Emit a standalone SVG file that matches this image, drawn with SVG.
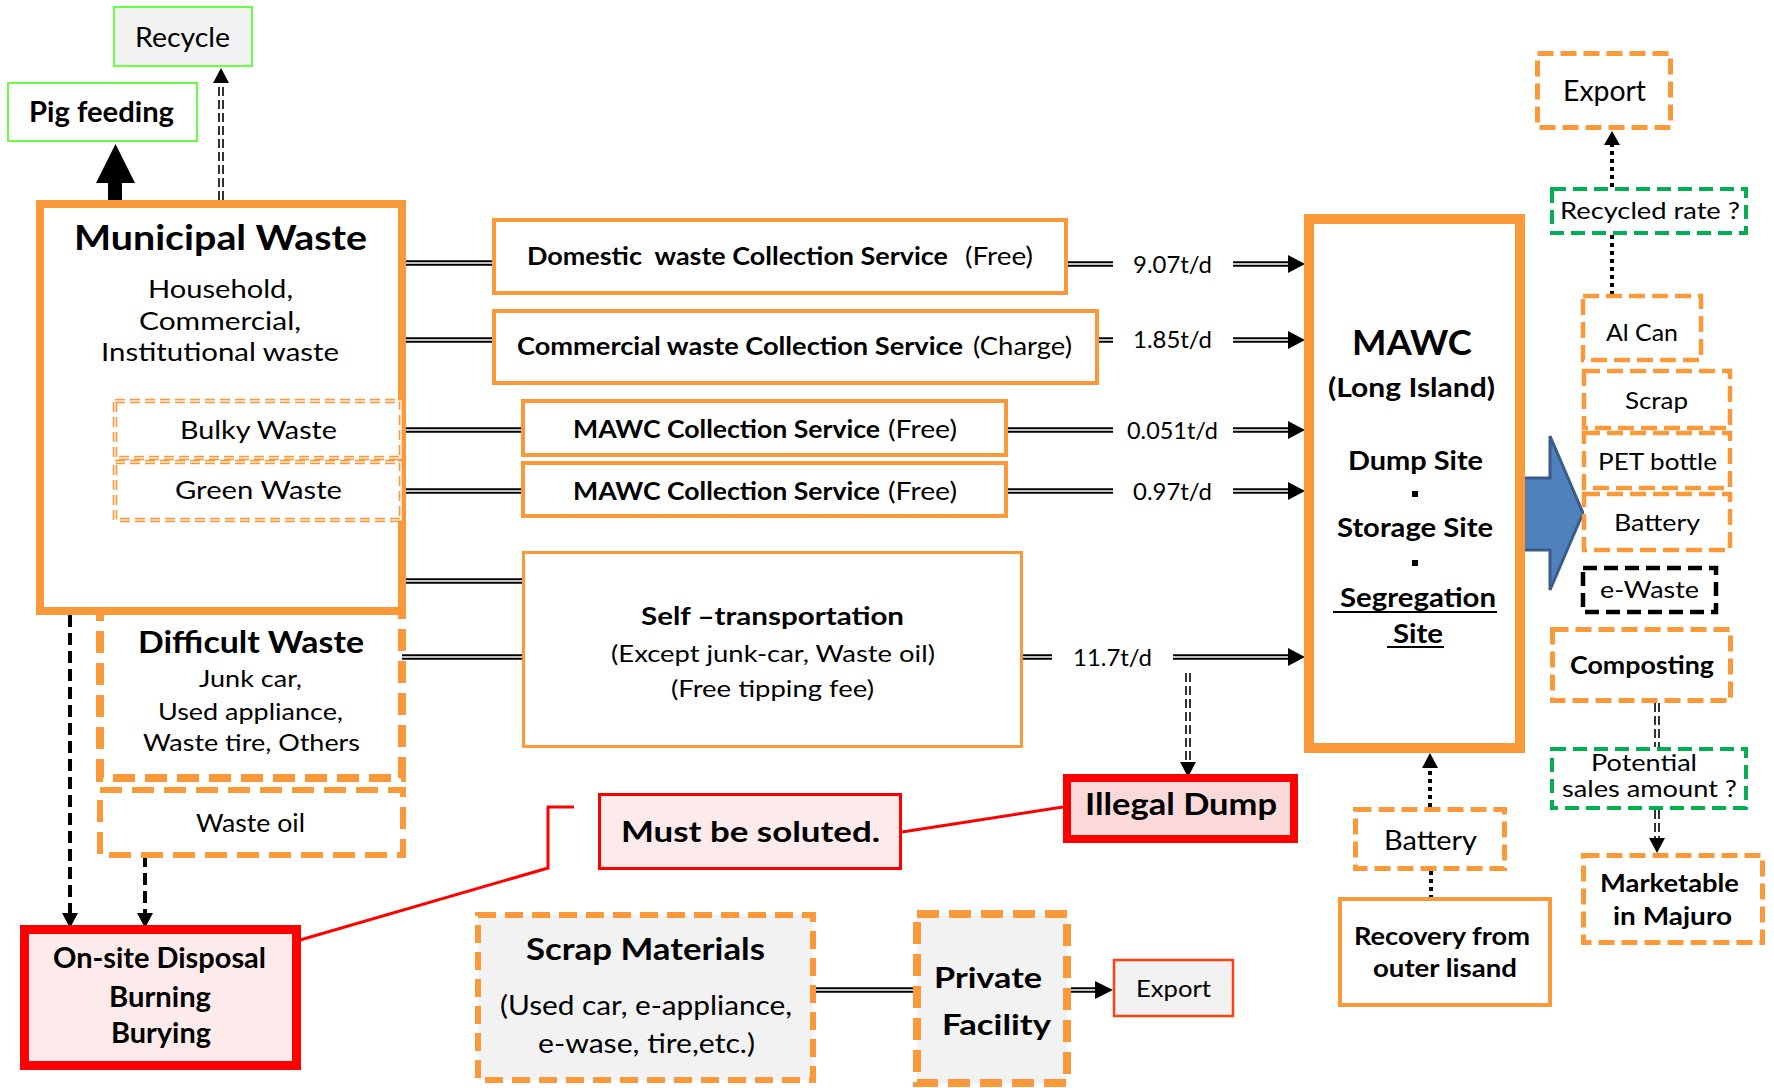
<svg xmlns="http://www.w3.org/2000/svg" width="1774" height="1088" viewBox="0 0 1774 1088">
<style>
text{font-family:Lato,"Open Sans","Liberation Sans",sans-serif;fill:#000;}
.b{font-weight:bold;}
.m{text-anchor:middle;}
.or{fill:#fff;stroke:#f9993a;}
.od{fill:#fff;stroke:#f9993a;stroke-dasharray:16 7;}
.gd{fill:#fff;stroke:#00b050;stroke-width:4;stroke-dasharray:14 7;}
.dl{fill:none;stroke:#000;stroke-width:5.5;}
.dlw{fill:none;stroke:#fff;stroke-width:1.6;}
.dot{fill:none;stroke:#000;stroke-width:4;stroke-dasharray:4 4;}
.dd{fill:none;stroke:#000;stroke-width:1.6;stroke-dasharray:9 4;}
.red{fill:none;stroke:#ff0000;stroke-width:3;}
</style>
<rect width="1774" height="1088" fill="#fff"/>

<g id="connectors">
  <!-- double-line connectors -->
  <path class="dl" d="M406 263H492M1068 264H1113M1233 264H1291M406 340H492M1099 340H1113M1233 340H1291M403 430H521M1008 430H1113M1233 430H1291M403 491H521M1008 491H1113M1233 491H1291M406 581H522M402 657H522M1023 657H1052M1173 657H1291M816 990H913M1071 990H1098"/>
  <path class="dlw" d="M406 263H492M1068 264H1113M1233 264H1289M406 340H492M1099 340H1113M1233 340H1289M403 430H521M1008 430H1113M1233 430H1289M403 491H521M1008 491H1113M1233 491H1289M406 581H522M402 657H522M1023 657H1052M1173 657H1289M816 990H913M1071 990H1096"/>
  <g fill="#000">
    <polygon points="1288,255 1305,264 1288,273"/>
    <polygon points="1288,331 1305,340 1288,349"/>
    <polygon points="1288,421 1305,430 1288,439"/>
    <polygon points="1288,482 1305,491 1288,500"/>
    <polygon points="1288,648 1305,657 1288,666"/>
    <polygon points="1095,981 1113,990 1095,999"/>
  </g>
  <!-- thick arrow to Pig feeding -->
  <polygon points="108,200 108,183 96,183 115.5,144 135,183 122,183 122,200" fill="#000"/>
  <!-- dashed double: to Recycle -->
  <path class="dd" d="M219 200V82M223 200V82"/>
  <polygon points="213,83 229,83 221,68" fill="#000"/>
  <!-- dashed double: to Illegal Dump -->
  <path class="dd" d="M1186 673V763M1190 673V763"/>
  <polygon points="1180,762 1196,762 1188,777" fill="#000"/>
  <!-- dashed double: Composting -> Potential -> Marketable -->
  <path class="dd" d="M1655 703V747M1659 703V747M1655 810V839M1659 810V839"/>
  <polygon points="1649,838 1665,838 1657,853" fill="#000"/>
  <!-- dotted -->
  <path class="dot" d="M1612 187V145M1612 235V294M1430 807V768M1431 871V897"/>
  <polygon points="1604,145 1620,145 1612,131" fill="#000"/>
  <polygon points="1422,768 1438,768 1430,753" fill="#000"/>
  <!-- black dashed to On-site -->
  <path d="M70 615V914M145 855V914" fill="none" stroke="#000" stroke-width="4" stroke-dasharray="12 6"/>
  <polygon points="62,913 78,913 70,928" fill="#000"/>
  <polygon points="137,913 153,913 145,928" fill="#000"/>
  <!-- red lines -->
  <polyline class="red" points="300,940 548,868 548,807 574,807"/>
  <line class="red" x1="902" y1="832" x2="1063" y2="807"/>
  <!-- blue arrow -->
  <polygon points="1518,478 1550,478 1550,436 1583,513 1550,590 1550,550 1518,550" fill="#4f81bd" stroke="#385d8a" stroke-width="3"/>
</g>

<g id="recycle">
  <rect x="114" y="7" width="138" height="59" fill="#f2f2f2" stroke="#66ff44" stroke-width="2"/>
  <text class="m" x="182.5" y="47" font-size="27" textLength="95" lengthAdjust="spacingAndGlyphs">Recycle</text>
</g>
<g id="pig-feeding">
  <rect x="8" y="83" width="189" height="58" fill="#fff" stroke="#66ff44" stroke-width="2"/>
  <text class="m b" x="101.5" y="122" font-size="28" textLength="145" lengthAdjust="spacingAndGlyphs">Pig feeding</text>
</g>

<g id="difficult-waste">
  <rect x="100" y="611" width="302" height="167" class="od" stroke-width="8" style="stroke-dasharray:22 10"/>
  <text class="m b" x="251" y="653" font-size="30" textLength="226" lengthAdjust="spacingAndGlyphs">Difficult Waste</text>
  <text class="m" x="250.5" y="687" font-size="24" textLength="103" lengthAdjust="spacingAndGlyphs">Junk car,</text>
  <text class="m" x="250.5" y="720" font-size="24" textLength="185" lengthAdjust="spacingAndGlyphs">Used appliance,</text>
  <text class="m" x="251.5" y="751" font-size="24" textLength="217" lengthAdjust="spacingAndGlyphs">Waste tire, Others</text>
</g>

<g id="municipal-waste">
  <rect x="40" y="204" width="362" height="407" class="or" stroke-width="8"/>
  <text class="m b" x="220.5" y="250" font-size="35" textLength="293" lengthAdjust="spacingAndGlyphs">Municipal Waste</text>
  <text class="m" x="220.5" y="298" font-size="25" textLength="145" lengthAdjust="spacingAndGlyphs">Household,</text>
  <text class="m" x="220" y="330" font-size="25" textLength="162" lengthAdjust="spacingAndGlyphs">Commercial,</text>
  <text class="m" x="220" y="361" font-size="25" textLength="238" lengthAdjust="spacingAndGlyphs">Institutional waste</text>
</g>

<g id="bulky-waste">
  <rect x="115" y="401" width="286" height="57" fill="#fff" stroke="#f9993a" stroke-width="4.5" stroke-dasharray="10 5"/>
  <rect x="115" y="401" width="286" height="57" fill="none" stroke="#fff" stroke-width="1.2"/>
  <text class="m" x="258.5" y="439" font-size="25" textLength="157" lengthAdjust="spacingAndGlyphs">Bulky Waste</text>
</g>
<g id="green-waste">
  <rect x="115" y="462" width="286" height="58" fill="#fff" stroke="#f9993a" stroke-width="4.5" stroke-dasharray="10 5"/>
  <rect x="115" y="462" width="286" height="58" fill="none" stroke="#fff" stroke-width="1.2"/>
  <text class="m" x="258.5" y="499" font-size="25" textLength="167" lengthAdjust="spacingAndGlyphs">Green Waste</text>
</g>

<g id="waste-oil">
  <rect x="100" y="790" width="303" height="65" class="od" stroke-width="6" style="stroke-dasharray:22 10"/>
  <text class="m" x="250.5" y="832" font-size="25" textLength="109" lengthAdjust="spacingAndGlyphs">Waste oil</text>
</g>

<g id="on-site-disposal">
  <rect x="24.5" y="929.5" width="272" height="136" fill="#fdeaea" stroke="#ff0000" stroke-width="9"/>
  <text class="m b" x="159.5" y="968" font-size="28" textLength="213" lengthAdjust="spacingAndGlyphs">On-site Disposal</text>
  <text class="m b" x="160" y="1007" font-size="28" textLength="102" lengthAdjust="spacingAndGlyphs">Burning</text>
  <text class="m b" x="161" y="1043" font-size="28" textLength="100" lengthAdjust="spacingAndGlyphs">Burying</text>
</g>

<g id="domestic-service">
  <rect x="494" y="220" width="572" height="73" class="or" stroke-width="4"/>
  <text class="b" x="527" y="265" font-size="25" textLength="421" lengthAdjust="spacingAndGlyphs">Domestic&#160; waste Collection Service</text>
  <text x="965" y="265" font-size="25" textLength="68" lengthAdjust="spacingAndGlyphs">(Free)</text>
</g>
<g id="commercial-service">
  <rect x="494" y="311" width="603" height="72" class="or" stroke-width="4"/>
  <text class="b" x="517" y="355" font-size="25" textLength="446" lengthAdjust="spacingAndGlyphs">Commercial waste Collection Service</text>
  <text x="973" y="355" font-size="25" textLength="99" lengthAdjust="spacingAndGlyphs">(Charge)</text>
</g>
<g id="mawc-service-1">
  <rect x="523" y="401" width="483" height="54" class="or" stroke-width="4"/>
  <text class="b" x="573" y="438" font-size="25" textLength="307" lengthAdjust="spacingAndGlyphs">MAWC Collection Service</text>
  <text x="888" y="438" font-size="25" textLength="69" lengthAdjust="spacingAndGlyphs">(Free)</text>
</g>
<g id="mawc-service-2">
  <rect x="523" y="463" width="483" height="53" class="or" stroke-width="4"/>
  <text class="b" x="573" y="500" font-size="25" textLength="307" lengthAdjust="spacingAndGlyphs">MAWC Collection Service</text>
  <text x="888" y="500" font-size="25" textLength="69" lengthAdjust="spacingAndGlyphs">(Free)</text>
</g>
<g id="self-transportation">
  <rect x="523.5" y="552.5" width="498" height="194" class="or" stroke-width="3"/>
  <text class="m b" x="772.5" y="625" font-size="25" textLength="263" lengthAdjust="spacingAndGlyphs">Self –transportation</text>
  <text class="m" x="773" y="662" font-size="24" textLength="324" lengthAdjust="spacingAndGlyphs">(Except junk-car, Waste oil)</text>
  <text class="m" x="772.5" y="697" font-size="24" textLength="203" lengthAdjust="spacingAndGlyphs">(Free tipping fee)</text>
</g>

<g id="rates" font-size="24">
  <text x="1133" y="273" textLength="79" lengthAdjust="spacingAndGlyphs">9.07t/d</text>
  <text x="1133" y="348" textLength="79" lengthAdjust="spacingAndGlyphs">1.85t/d</text>
  <text x="1127" y="439" textLength="91" lengthAdjust="spacingAndGlyphs">0.051t/d</text>
  <text x="1133" y="500" textLength="79" lengthAdjust="spacingAndGlyphs">0.97t/d</text>
  <text x="1073" y="666" textLength="79" lengthAdjust="spacingAndGlyphs">11.7t/d</text>
</g>

<g id="mawc">
  <rect x="1309" y="219" width="211" height="529" class="or" stroke-width="10"/>
  <text class="m b" x="1412" y="355" font-size="35" textLength="120" lengthAdjust="spacingAndGlyphs">MAWC</text>
  <text class="m b" x="1411.5" y="397" font-size="26" textLength="167" lengthAdjust="spacingAndGlyphs">(Long Island)</text>
  <text class="m b" x="1415.5" y="470" font-size="27" textLength="135" lengthAdjust="spacingAndGlyphs">Dump Site</text>
  <rect x="1412" y="491" width="6" height="6" fill="#000"/>
  <text class="m b" x="1415" y="537" font-size="27" textLength="156" lengthAdjust="spacingAndGlyphs">Storage Site</text>
  <rect x="1412" y="560" width="6" height="6" fill="#000"/>
  <text class="m b" x="1418" y="607" font-size="27" textLength="156" lengthAdjust="spacingAndGlyphs">Segregation</text>
  <line x1="1333" y1="612" x2="1497" y2="612" stroke="#000" stroke-width="2"/>
  <text class="m b" x="1418" y="643" font-size="27" textLength="50" lengthAdjust="spacingAndGlyphs">Site</text>
  <line x1="1387" y1="647" x2="1444" y2="647" stroke="#000" stroke-width="2"/>
</g>

<g id="illegal-dump">
  <rect x="1067" y="778" width="227" height="61" fill="#fcd9d9" stroke="#ff0000" stroke-width="8"/>
  <text class="m b" x="1181" y="815" font-size="30" textLength="192" lengthAdjust="spacingAndGlyphs">Illegal Dump</text>
</g>
<g id="must-be-soluted">
  <rect x="599.5" y="794.5" width="301" height="74" fill="#fdeaea" stroke="#ff0000" stroke-width="3"/>
  <text class="m b" x="750.5" y="842" font-size="29" textLength="259" lengthAdjust="spacingAndGlyphs">Must be soluted.</text>
</g>

<g id="scrap-materials">
  <rect x="478" y="915" width="335" height="165" fill="#f2f2f2" stroke="#f9993a" stroke-width="6" stroke-dasharray="18 9"/>
  <text class="m b" x="645.5" y="960" font-size="30" textLength="239" lengthAdjust="spacingAndGlyphs">Scrap Materials</text>
  <text class="m" x="646" y="1015" font-size="27" textLength="292" lengthAdjust="spacingAndGlyphs">(Used car, e-appliance,</text>
  <text class="m" x="646.5" y="1053" font-size="27" textLength="217" lengthAdjust="spacingAndGlyphs">e-wase, tire,etc.)</text>
</g>
<g id="private-facility">
  <rect x="917" y="914" width="150" height="169" fill="#f2f2f2" stroke="#f9993a" stroke-width="8" stroke-dasharray="22 10"/>
  <text class="m b" x="988" y="988" font-size="29" textLength="108" lengthAdjust="spacingAndGlyphs">Private</text>
  <text class="m b" x="996.5" y="1035" font-size="29" textLength="109" lengthAdjust="spacingAndGlyphs">Facility</text>
</g>
<g id="export-bottom">
  <rect x="1114" y="960" width="119" height="56" fill="#f2f2f2" stroke="#ff4010" stroke-width="2.5"/>
  <text class="m" x="1173.5" y="997" font-size="23" textLength="75" lengthAdjust="spacingAndGlyphs">Export</text>
</g>

<g id="export-top">
  <rect x="1537.5" y="53.5" width="133" height="74" class="od" stroke-width="5"/>
  <text class="m" x="1604.5" y="101" font-size="28" textLength="83" lengthAdjust="spacingAndGlyphs">Export</text>
</g>
<g id="recycled-rate">
  <rect x="1552" y="189" width="194" height="44" class="gd"/>
  <text class="m" x="1650" y="219" font-size="24" textLength="180" lengthAdjust="spacingAndGlyphs">Recycled rate ?</text>
</g>
<g id="al-can">
  <rect x="1583" y="296" width="118" height="64" class="od" stroke-width="4.5"/>
  <text class="m" x="1642" y="341" font-size="24" textLength="72" lengthAdjust="spacingAndGlyphs">Al Can</text>
</g>
<g id="scrap">
  <rect x="1584" y="371" width="146" height="57" class="od" stroke-width="4.5"/>
  <text class="m" x="1656.5" y="409" font-size="24" textLength="63" lengthAdjust="spacingAndGlyphs">Scrap</text>
</g>
<g id="pet-bottle">
  <rect x="1584" y="433" width="146" height="55" class="od" stroke-width="4.5"/>
  <text class="m" x="1657.5" y="470" font-size="24" textLength="119" lengthAdjust="spacingAndGlyphs">PET bottle</text>
</g>
<g id="battery">
  <rect x="1584" y="494" width="146" height="56" class="od" stroke-width="4.5"/>
  <text class="m" x="1657" y="531" font-size="24" textLength="86" lengthAdjust="spacingAndGlyphs">Battery</text>
</g>
<g id="e-waste">
  <rect x="1583" y="568" width="133" height="44" fill="#fff" stroke="#000" stroke-width="4.5" stroke-dasharray="14 7"/>
  <text class="m" x="1649.5" y="598" font-size="24" textLength="99" lengthAdjust="spacingAndGlyphs">e-Waste</text>
</g>
<g id="composting">
  <rect x="1552.5" y="629.5" width="178" height="71" class="od" stroke-width="5"/>
  <text class="m b" x="1642" y="674" font-size="24" textLength="144" lengthAdjust="spacingAndGlyphs">Composting</text>
</g>
<g id="potential-sales">
  <rect x="1552" y="749" width="194" height="59" class="gd"/>
  <text class="m" x="1644" y="771" font-size="24" textLength="106" lengthAdjust="spacingAndGlyphs">Potential</text>
  <text class="m" x="1649.5" y="797" font-size="24" textLength="175" lengthAdjust="spacingAndGlyphs">sales amount ?</text>
</g>
<g id="marketable">
  <rect x="1583.5" y="855.5" width="179" height="87" class="od" stroke-width="5"/>
  <text class="m b" x="1669.5" y="892" font-size="24" textLength="139" lengthAdjust="spacingAndGlyphs">Marketable</text>
  <text class="m b" x="1672.5" y="925" font-size="24" textLength="119" lengthAdjust="spacingAndGlyphs">in Majuro</text>
</g>
<g id="battery-outer">
  <rect x="1355.5" y="809.5" width="149" height="59" class="od" stroke-width="5"/>
  <text class="m" x="1430.5" y="850" font-size="26" textLength="93" lengthAdjust="spacingAndGlyphs">Battery</text>
</g>
<g id="recovery">
  <rect x="1340" y="899" width="210" height="106" class="or" stroke-width="4"/>
  <text class="m b" x="1442" y="945" font-size="24" textLength="176" lengthAdjust="spacingAndGlyphs">Recovery from</text>
  <text class="m b" x="1445" y="977" font-size="24" textLength="144" lengthAdjust="spacingAndGlyphs">outer lisand</text>
</g>
</svg>
